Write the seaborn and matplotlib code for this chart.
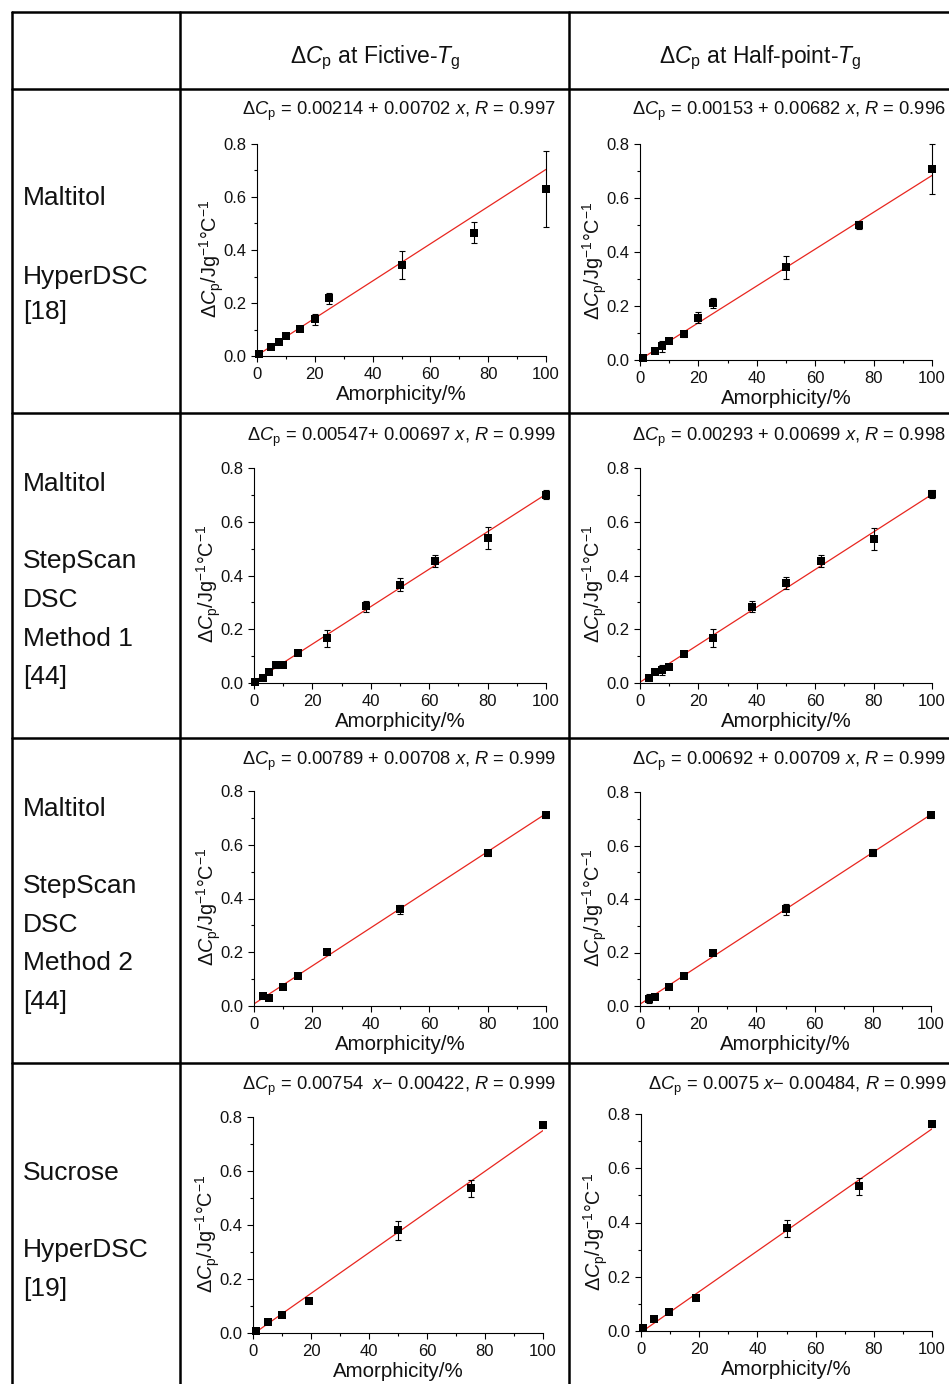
import numpy as np
import pandas as pd
import matplotlib
matplotlib.use("Agg")
import matplotlib.pyplot as plt
import seaborn as sns
from matplotlib.lines import Line2D
from matplotlib.ticker import MultipleLocator, FormatStrFormatter

sns.set_theme(style="ticks")
plt.rcParams["font.family"] = ["Liberation Sans", "DejaVu Sans"]
plt.rcParams["mathtext.fontset"] = "custom"
plt.rcParams["mathtext.rm"] = "Liberation Sans"
plt.rcParams["mathtext.it"] = "Liberation Sans:italic"
plt.rcParams["mathtext.bf"] = "Liberation Sans:bold"
plt.rcParams["axes.unicode_minus"] = True

# ---------------- data ----------------
col_headers = ["Δ$C_{\\rm p}$ at Fictive-$T_{\\rm g}$",
               "Δ$C_{\\rm p}$ at Half-point-$T_{\\rm g}$"]

row_labels = [
    ["Maltitol", "", "HyperDSC", "[18]"],
    ["Maltitol", "", "StepScan", "DSC", "Method 1", "[44]"],
    ["Maltitol", "", "StepScan", "DSC", "Method 2", "[44]"],
    ["Sucrose", "", "HyperDSC", "[19]"],
]

# Panel 1: Maltitol HyperDSC, fictive Tg
p1_x = [0.6, 5, 7.5, 10, 15, 20, 25, 50, 75, 100]
p1_y = [0.006, 0.035, 0.053, 0.074, 0.102, 0.139, 0.218, 0.344, 0.465, 0.630]
p1_e = [0, 0, 0, 0, 0, 0.021, 0.021, 0.054, 0.039, 0.145]
# Panel 2: Maltitol HyperDSC, half-point Tg
p2_x = [0.9, 5.3, 7.5, 10, 15, 20, 25, 50, 75, 100]
p2_y = [0.006, 0.033, 0.051, 0.072, 0.095, 0.157, 0.210, 0.343, 0.500, 0.707]
p2_e = [0, 0, 0.021, 0, 0.010, 0.021, 0.019, 0.043, 0.016, 0.094]
# Panel 3: Maltitol StepScan method 1, fictive Tg
p3_x = [0.3, 3, 5, 7.5, 10, 15, 25, 38.5, 50, 62, 80, 100]
p3_y = [0.002, 0.020, 0.042, 0.066, 0.066, 0.113, 0.166, 0.285, 0.366, 0.455, 0.540, 0.701]
p3_e = [0, 0, 0, 0.012, 0, 0, 0.032, 0.019, 0.025, 0.023, 0.042, 0.016]
# Panel 4: Maltitol StepScan method 1, half-point Tg
p4_x = [3, 5, 7.5, 10, 15, 25, 38.5, 50, 62, 80, 100]
p4_y = [0.019, 0.041, 0.047, 0.061, 0.109, 0.167, 0.284, 0.372, 0.455, 0.536, 0.703]
p4_e = [0, 0, 0.019, 0, 0, 0.033, 0.020, 0.022, 0.022, 0.042, 0.014]
# Panel 5: Maltitol StepScan method 2, fictive Tg
p5_x = [3, 5, 10, 15, 25, 50, 80, 100]
p5_y = [0.037, 0.031, 0.070, 0.112, 0.200, 0.360, 0.570, 0.711]
p5_e = [0, 0, 0, 0, 0.010, 0.016, 0.012, 0.010]
# Panel 6: Maltitol StepScan method 2, half-point Tg
p6_x = [3, 5, 10, 15, 25, 50, 80, 100]
p6_y = [0.027, 0.032, 0.072, 0.112, 0.199, 0.361, 0.573, 0.713]
p6_e = [0.017, 0, 0, 0, 0.010, 0.019, 0.014, 0.010]
# Panel 7: Sucrose HyperDSC, fictive Tg
p7_x = [1, 5, 10, 19.3, 50, 75, 100]
p7_y = [0.006, 0.042, 0.068, 0.120, 0.380, 0.536, 0.769]
p7_e = [0, 0, 0, 0, 0.036, 0.031, 0.011]
# Panel 8: Sucrose HyperDSC, half-point Tg
p8_x = [0.7, 4.6, 9.6, 19, 50, 75, 100]
p8_y = [0.010, 0.046, 0.071, 0.123, 0.379, 0.533, 0.762]
p8_e = [0, 0, 0, 0, 0.032, 0.030, 0.010]

fit_intercepts = [0.00214, 0.00153, 0.00547, 0.00293, 0.00789, 0.00692, -0.00422, -0.00484]
fit_slopes = [0.00702, 0.00682, 0.00697, 0.00699, 0.00708, 0.00709, 0.00754, 0.0075]
equations = [
    "Δ$C_{\\rm p}$ = 0.00214 + 0.00702 $x$, $R$ = 0.997",
    "Δ$C_{\\rm p}$ = 0.00153 + 0.00682 $x$, $R$ = 0.996",
    "Δ$C_{\\rm p}$ = 0.00547+ 0.00697 $x$, $R$ = 0.999",
    "Δ$C_{\\rm p}$ = 0.00293 + 0.00699 $x$, $R$ = 0.998",
    "Δ$C_{\\rm p}$ = 0.00789 + 0.00708 $x$, $R$ = 0.999",
    "Δ$C_{\\rm p}$ = 0.00692 + 0.00709 $x$, $R$ = 0.999",
    "Δ$C_{\\rm p}$ = 0.00754  $x$− 0.00422, $R$ = 0.999",
    "Δ$C_{\\rm p}$ = 0.0075 $x$− 0.00484, $R$ = 0.999",
]
panels = [(p1_x, p1_y, p1_e), (p2_x, p2_y, p2_e), (p3_x, p3_y, p3_e), (p4_x, p4_y, p4_e),
          (p5_x, p5_y, p5_e), (p6_x, p6_y, p6_e), (p7_x, p7_y, p7_e), (p8_x, p8_y, p8_e)]

x_range = [0, 100]
y_range = [0, 0.8]
x_label = "Amorphicity/%"
y_label = "Δ$C_{\\rm p}$/Jg$^{-1}$°C$^{-1}$"

# ---------------- layout (pixels) ----------------
W, H = 949, 1384
axes_px = [  # left, right, top, bottom
    (257, 546, 144, 356), (640, 932, 144, 360),
    (254, 546, 468, 683), (640, 932, 468, 683),
    (254, 546, 791, 1006), (640, 931, 792, 1006),
    (253, 543, 1117, 1333), (641, 932, 1114, 1331),
]
title_px = [(556, 115), (946, 115), (556, 441), (946, 441),
            (556, 765), (946, 765), (556, 1090), (946, 1090)]
row_line_px = [1063, 738, 413]
row_text_base = [
    [205, None, 284, 319],
    [491, None, 568, 607, 646, 684],
    [816, None, 893, 932, 970, 1009],
    [1180, None, 1257, 1296],
]

fig = plt.figure(figsize=(W / 100, H / 100), dpi=100)
fig.patch.set_facecolor("white")


def fx(px):
    return px / W


def fy(py):
    return 1 - py / H


for i, ((xs, ys, es), (l, r, t, b)) in enumerate(zip(panels, axes_px)):
    ax = fig.add_axes([fx(l), fy(b), (r - l) / W, (b - t) / H])
    ax.set_facecolor("white")
    df = pd.DataFrame({"x": xs, "y": ys, "e": es})
    line_x = np.array(x_range, dtype=float)
    line_df = pd.DataFrame({"x": line_x, "y": fit_intercepts[i] + fit_slopes[i] * line_x})
    sns.lineplot(data=line_df, x="x", y="y", color="#e8261f", lw=0.9, ax=ax, zorder=2)
    eb = df[df["e"] > 0]
    ax.errorbar(eb["x"], eb["y"], yerr=eb["e"], fmt="none", ecolor="black",
                elinewidth=0.8, capsize=2.3, capthick=0.8, zorder=3, clip_on=False)
    sns.scatterplot(data=df, x="x", y="y", marker="s", color="black", s=30,
                    edgecolor="black", linewidth=0, ax=ax, zorder=4, clip_on=False)
    ax.set_xlim(*x_range)
    ax.set_ylim(*y_range)
    ax.xaxis.set_major_locator(MultipleLocator(20))
    ax.xaxis.set_minor_locator(MultipleLocator(10))
    ax.yaxis.set_major_locator(MultipleLocator(0.2))
    ax.yaxis.set_minor_locator(MultipleLocator(0.1))
    ax.yaxis.set_major_formatter(FormatStrFormatter("%.1f"))
    ax.tick_params(which="major", direction="out", length=4, width=0.8,
                   labelsize=12, color="black", labelcolor="#111111")
    ax.tick_params(axis="x", which="major", pad=4)
    ax.tick_params(axis="y", which="major", pad=3.5)
    ax.tick_params(which="minor", direction="out", length=2.2, width=0.8, color="black")
    for s in ["top", "right"]:
        ax.spines[s].set_visible(False)
    for s in ["left", "bottom"]:
        ax.spines[s].set_linewidth(0.8)
        ax.spines[s].set_color("black")
    ax.set_xlabel(x_label, fontsize=14.8, labelpad=2, color="#111111")
    ax.set_ylabel(y_label, fontsize=14.3, labelpad=-1.5, color="#111111")
    ax.yaxis.label.set_y(0.46)
    tx, ty = title_px[i]
    fig.text(fx(tx), fy(ty), equations[i], ha="right", va="baseline", fontsize=13.2,
             color="#111111")

# ---------------- table grid ----------------
lw_tab = 1.8
fig.add_artist(Line2D([fx(12), fx(12)], [fy(12), fy(H)], color="black", lw=lw_tab))
fig.add_artist(Line2D([fx(180), fx(180)], [fy(12), fy(H)], color="black", lw=lw_tab))
fig.add_artist(Line2D([fx(569), fx(569)], [fy(12), fy(H)], color="black", lw=lw_tab))
fig.add_artist(Line2D([fx(12), fx(W)], [fy(12), fy(12)], color="black", lw=lw_tab))
fig.add_artist(Line2D([fx(12), fx(W)], [fy(89), fy(89)], color="black", lw=lw_tab))
for yy in row_line_px:
    fig.add_artist(Line2D([fx(12), fx(W)], [fy(yy), fy(yy)], color="black", lw=lw_tab))

# header
fig.text(fx(375), fy(63), col_headers[0], ha="center", va="baseline", fontsize=16.5, color="#111111")
fig.text(fx(760), fy(63), col_headers[1], ha="center", va="baseline", fontsize=16.5, color="#111111")

# row labels
for labels, bases in zip(row_labels, row_text_base):
    for txt, by in zip(labels, bases):
        if txt:
            fig.text(fx(23), fy(by), txt, ha="left", va="baseline", fontsize=19,
                     color="#111111")

fig.savefig("out.png", dpi=100, facecolor="white")
